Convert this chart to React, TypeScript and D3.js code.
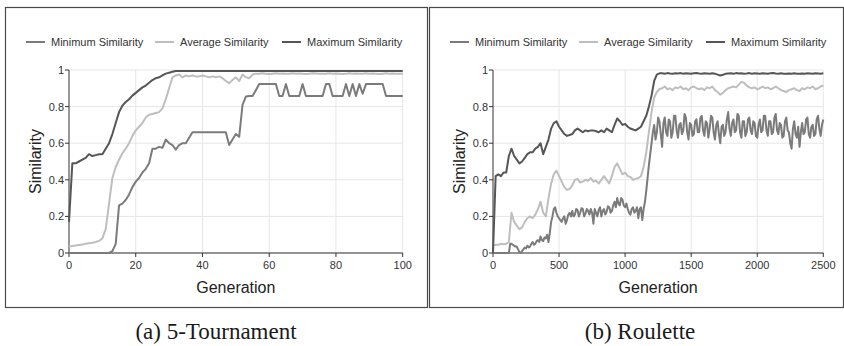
import React from "react";
import * as d3 from "d3";

const seriesNames = ["Minimum Similarity", "Average Similarity", "Maximum Similarity"];
const seriesColors = ["#7b7b7b", "#bebebe", "#565656"];
const yTicks = [0, 0.2, 0.4, 0.6, 0.8, 1];

// (a) 5-Tournament, one value per generation 0..100
const tourMin = [
  0, 0, 0, 0, 0, 0, 0, 0, 0, 0,
  0, 0, 0, 0.01, 0.05, 0.26, 0.27, 0.29, 0.32, 0.36,
  0.39, 0.41, 0.44, 0.46, 0.49, 0.57, 0.57, 0.58, 0.575, 0.62,
  0.6, 0.59, 0.565, 0.59, 0.6, 0.6, 0.63, 0.66, 0.66, 0.66,
  0.66, 0.66, 0.66, 0.66, 0.66, 0.66, 0.66, 0.66, 0.59, 0.62,
  0.65, 0.635, 0.81, 0.855, 0.858, 0.858, 0.89, 0.923, 0.923, 0.923,
  0.923, 0.923, 0.923, 0.858, 0.858, 0.923, 0.858, 0.858, 0.858, 0.858,
  0.923, 0.858, 0.858, 0.858, 0.858, 0.858, 0.858, 0.923, 0.923, 0.858,
  0.858, 0.858, 0.858, 0.923, 0.858, 0.923, 0.858, 0.923, 0.87, 0.923,
  0.923, 0.923, 0.923, 0.923, 0.923, 0.858, 0.858, 0.858, 0.858, 0.858,
  0.858,
];
const tourAvg = [
  0.035, 0.038, 0.041, 0.044, 0.047, 0.05, 0.053, 0.056, 0.06, 0.066,
  0.08, 0.13, 0.27, 0.41, 0.47, 0.51, 0.545, 0.57, 0.6, 0.64,
  0.67, 0.69, 0.71, 0.74, 0.755, 0.76, 0.765, 0.77, 0.79, 0.84,
  0.9, 0.96, 0.97, 0.975, 0.96, 0.97, 0.965, 0.97, 0.965, 0.965,
  0.97, 0.965, 0.96, 0.965, 0.96, 0.965, 0.955, 0.94, 0.928, 0.945,
  0.96, 0.94, 0.975, 0.96, 0.955, 0.975, 0.98, 0.98, 0.982, 0.98,
  0.978, 0.98, 0.982, 0.98, 0.981, 0.979, 0.98, 0.982, 0.98, 0.981,
  0.98, 0.978, 0.98, 0.982, 0.981, 0.98, 0.979, 0.98, 0.982, 0.98,
  0.981, 0.98, 0.978, 0.98, 0.982, 0.98, 0.981, 0.979, 0.98, 0.982,
  0.98, 0.981, 0.98, 0.978, 0.98, 0.982, 0.98, 0.981, 0.979, 0.98,
  0.98,
];
const tourMax = [
  0.17, 0.49, 0.49, 0.5, 0.51, 0.52, 0.54, 0.53, 0.535, 0.54,
  0.54, 0.57, 0.6, 0.65, 0.71, 0.77, 0.805, 0.825, 0.84, 0.86,
  0.875, 0.89, 0.905, 0.915, 0.93, 0.945, 0.955, 0.96, 0.97, 0.98,
  0.985, 0.99, 0.995, 0.995, 0.995, 0.994, 0.995, 0.995, 0.995, 0.994,
  0.995, 0.995, 0.995, 0.995, 0.994, 0.995, 0.995, 0.995, 0.995, 0.995,
  0.994, 0.995, 0.995, 0.995, 0.995, 0.995, 0.995, 0.994, 0.995, 0.995,
  0.995, 0.995, 0.995, 0.995, 0.994, 0.995, 0.995, 0.995, 0.995, 0.995,
  0.995, 0.995, 0.994, 0.995, 0.995, 0.995, 0.995, 0.995, 0.995, 0.995,
  0.994, 0.995, 0.995, 0.995, 0.995, 0.995, 0.995, 0.995, 0.995, 0.994,
  0.995, 0.995, 0.995, 0.995, 0.995, 0.995, 0.995, 0.995, 0.995, 0.995,
  0.995,
];

// (b) Roulette: minimum every 10 generations, average / maximum every 20
const rouMinStep = 10;
const rouStep = 20;
const rouMin = [
  0, 0, 0, 0, 0, 0, 0, 0, 0, 0,
  0, 0, 0, 0.05, 0.05, 0.045, 0.04, 0.035, 0.035, 0.02,
  0.005, 0, 0.01, 0.02, 0.03, 0.025, 0.04, 0.03, 0.035, 0.05,
  0.06, 0.045, 0.05, 0.065, 0.07, 0.06, 0.09, 0.07, 0.065, 0.085,
  0.08, 0.1, 0.06, 0.11, 0.17, 0.2, 0.24, 0.25, 0.22, 0.2,
  0.19, 0.18, 0.17, 0.19, 0.2, 0.16, 0.18, 0.21, 0.22, 0.2,
  0.23, 0.2, 0.21, 0.24, 0.235, 0.2, 0.22, 0.245, 0.24, 0.2,
  0.215, 0.24, 0.23, 0.21, 0.24, 0.22, 0.16, 0.24, 0.22, 0.2,
  0.235, 0.25, 0.2, 0.23, 0.24, 0.21, 0.225, 0.255, 0.25, 0.22,
  0.23, 0.26, 0.28, 0.25, 0.3, 0.27, 0.26, 0.3, 0.29, 0.26,
  0.25, 0.27, 0.24, 0.22, 0.21, 0.24, 0.25, 0.22, 0.23, 0.25,
  0.19, 0.24, 0.25, 0.18, 0.24, 0.28, 0.34, 0.41, 0.48, 0.54,
  0.6, 0.66, 0.7, 0.62, 0.66, 0.74, 0.72, 0.65, 0.58, 0.71,
  0.74, 0.66, 0.64, 0.73, 0.72, 0.63, 0.66, 0.75, 0.75, 0.67,
  0.63, 0.7, 0.71, 0.65, 0.67, 0.76, 0.74, 0.66, 0.62, 0.71,
  0.7, 0.64, 0.65, 0.72, 0.73, 0.66, 0.66, 0.74, 0.75, 0.67,
  0.64, 0.72, 0.71, 0.63, 0.68, 0.75, 0.74, 0.66, 0.62, 0.7,
  0.72, 0.65, 0.6, 0.69, 0.7, 0.64, 0.66, 0.73, 0.77, 0.68,
  0.64, 0.71, 0.73, 0.66, 0.67, 0.76, 0.75, 0.66, 0.63, 0.72,
  0.72, 0.64, 0.66, 0.73, 0.74, 0.67, 0.65, 0.72, 0.71, 0.64,
  0.63, 0.7, 0.73, 0.66, 0.67, 0.75, 0.75, 0.67, 0.64, 0.72,
  0.72, 0.65, 0.66, 0.74, 0.76, 0.67, 0.65, 0.71, 0.7, 0.63,
  0.64, 0.72, 0.74, 0.67, 0.66, 0.6, 0.57, 0.68, 0.72, 0.65,
  0.63, 0.69, 0.58, 0.66, 0.71, 0.65, 0.66, 0.73, 0.74, 0.65,
  0.63, 0.69, 0.7, 0.64, 0.65, 0.73, 0.75, 0.68, 0.64, 0.7,
  0.73,
];
const rouAvg = [
  0.04, 0.045, 0.045, 0.05, 0.048, 0.05, 0.06, 0.22, 0.17, 0.15,
  0.13, 0.14, 0.17, 0.19, 0.2, 0.19, 0.21, 0.24, 0.28, 0.22,
  0.2, 0.3, 0.38, 0.43, 0.45, 0.42, 0.39, 0.36, 0.345, 0.35,
  0.37, 0.4, 0.405, 0.385, 0.39, 0.4, 0.395, 0.41, 0.39, 0.395,
  0.38, 0.4, 0.42, 0.4, 0.38, 0.42, 0.47, 0.49, 0.46, 0.43,
  0.44, 0.42, 0.415, 0.4, 0.405, 0.41, 0.42, 0.47, 0.55, 0.66,
  0.77, 0.85, 0.88, 0.895,
  0.9, 0.91, 0.895, 0.9, 0.89, 0.905, 0.9, 0.91, 0.895, 0.9,
  0.89, 0.905, 0.91, 0.9, 0.895, 0.9, 0.89, 0.905, 0.9, 0.91,
  0.89, 0.88, 0.865, 0.875, 0.89, 0.9, 0.905, 0.91, 0.905, 0.92,
  0.935, 0.93, 0.915, 0.905, 0.9, 0.905, 0.895, 0.9, 0.91, 0.9,
  0.905, 0.895, 0.9, 0.91, 0.9, 0.89, 0.885, 0.88, 0.89, 0.895,
  0.9, 0.89, 0.885, 0.9, 0.895, 0.905, 0.9, 0.91, 0.895, 0.9,
  0.91, 0.915,
];
const rouMax = [
  0, 0.42, 0.43, 0.42, 0.44, 0.44, 0.53, 0.57, 0.53, 0.51,
  0.49, 0.5, 0.52, 0.54, 0.55, 0.55, 0.57, 0.58, 0.6, 0.54,
  0.58, 0.62, 0.68, 0.71, 0.72, 0.69, 0.67, 0.65, 0.64, 0.645,
  0.65, 0.67, 0.68, 0.67, 0.66, 0.67, 0.665, 0.67, 0.67, 0.665,
  0.66, 0.67, 0.66, 0.68, 0.67, 0.66, 0.7, 0.735, 0.72, 0.7,
  0.705, 0.69, 0.68, 0.675, 0.67, 0.68, 0.69, 0.72, 0.75, 0.8,
  0.86, 0.94, 0.975, 0.982,
  0.982, 0.98, 0.983, 0.981, 0.98, 0.982, 0.981, 0.983, 0.98, 0.982,
  0.981, 0.98, 0.982, 0.983, 0.981, 0.98, 0.982, 0.981, 0.98, 0.982,
  0.98, 0.975, 0.97, 0.974, 0.979, 0.981, 0.982, 0.98, 0.983, 0.981,
  0.982, 0.98, 0.981, 0.983, 0.98, 0.982, 0.981, 0.98, 0.982, 0.981,
  0.98, 0.982, 0.983, 0.981, 0.98, 0.982, 0.98, 0.979, 0.981, 0.98,
  0.982, 0.98, 0.979, 0.981, 0.98, 0.982, 0.981, 0.98, 0.982, 0.981,
  0.98, 0.982,
];

const sans = "'Liberation Sans', Arial, Helvetica, sans-serif";

type PanelProps = {
  bx: number;
  bw: number;
  x0: number;
  x1: number;
  xMax: number;
  xTicks: number[];
  steps: number[];
  series: number[][];
  caption: string;
  captionX: number;
};

const Panel = ({ bx, bw, x0, x1, xMax, xTicks, steps, series, caption, captionX }: PanelProps) => {
  const y0 = 253, y1 = 70;
  const x = d3.scaleLinear().domain([0, xMax]).range([x0, x1]);
  const y = d3.scaleLinear().domain([0, 1]).range([y0, y1]);
  const legendOffsets = [21, 150, 277];

  return (
    <g>
      <rect x={bx + 0.5} y={7.5} width={bw} height={300} fill="none" stroke="#4a4a4a" strokeWidth={1.2} />
      {/* legend */}
      {seriesNames.map((name, i) => (
        <g key={name} transform={`translate(${bx + legendOffsets[i]},42)`}>
          <line x1={0} x2={19} y1={0} y2={0} stroke={seriesColors[i]} strokeWidth={2} />
          <text x={25} y={4} fontSize={11} fontFamily={sans} fill="#333">{name}</text>
        </g>
      ))}
      {/* grid */}
      {yTicks.map(t => (
        <line key={"gy" + t} x1={x0} x2={x1} y1={y(t)} y2={y(t)} stroke="#e6e6e6" strokeWidth={1} />
      ))}
      {xTicks.filter(t => t > 0).map(t => (
        <line key={"gx" + t} x1={x(t)} x2={x(t)} y1={y1} y2={y0} stroke="#e6e6e6" strokeWidth={1} />
      ))}
      {/* axes */}
      <line x1={x0} x2={x1} y1={y0} y2={y0} stroke="#333" strokeWidth={1} />
      <line x1={x0} x2={x0} y1={y1} y2={y0} stroke="#333" strokeWidth={1} />
      {yTicks.map(t => (
        <g key={"ty" + t}>
          <line x1={x0 - 4} x2={x0} y1={y(t)} y2={y(t)} stroke="#333" />
          <text x={x0 - 5} y={y(t) + 4} textAnchor="end" fontSize={11} fontFamily={sans} fill="#333">
            {d3.format("~g")(t)}
          </text>
        </g>
      ))}
      {xTicks.map(t => (
        <g key={"tx" + t}>
          <line x1={x(t)} x2={x(t)} y1={y0} y2={y0 + 4} stroke="#333" />
          <text x={x(t)} y={y0 + 16} textAnchor="middle" fontSize={11} fontFamily={sans} fill="#333">
            {t}
          </text>
        </g>
      ))}
      <text x={(x0 + x1) / 2} y={293} textAnchor="middle" fontSize={16} fontFamily={sans} fill="#222">
        Generation
      </text>
      <text transform={`translate(${bx + 36},${(y0 + y1) / 2}) rotate(-90)`} textAnchor="middle"
        fontSize={16} fontFamily={sans} fill="#222">
        Similarity
      </text>
      {/* series */}
      {series.map((vals, i) => {
        const line = d3.line<number>()
          .x((d, j) => x(j * steps[i]))
          .y(d => y(d));
        return (
          <path key={i} d={line(vals) || ""} fill="none" stroke={seriesColors[i]} strokeWidth={2}
            strokeLinejoin="round" />
        );
      })}
      <text x={captionX} y={339} textAnchor="middle" fontSize={23}
        fontFamily="'Liberation Serif', 'Times New Roman', serif" fill="#1a1a1a">
        {caption}
      </text>
    </g>
  );
};

const App = () => {
  return (
    <svg width={844} height={346} style={{ position: "absolute", left: 0, top: 0, background: "#fff" }}>
      <Panel bx={5} bw={422} x0={69} x1={402.7} xMax={100} xTicks={[0, 20, 40, 60, 80, 100]}
        steps={[1, 1, 1]} series={[tourMin, tourAvg, tourMax]} caption="(a) 5-Tournament" captionX={216} />
      <Panel bx={429} bw={414} x0={493} x1={823.3} xMax={2500} xTicks={[0, 500, 1000, 1500, 2000, 2500]}
        steps={[rouMinStep, rouStep, rouStep]} series={[rouMin, rouAvg, rouMax]}
        caption="(b) Roulette" captionX={640} />
    </svg>
  );
};

export default App;
